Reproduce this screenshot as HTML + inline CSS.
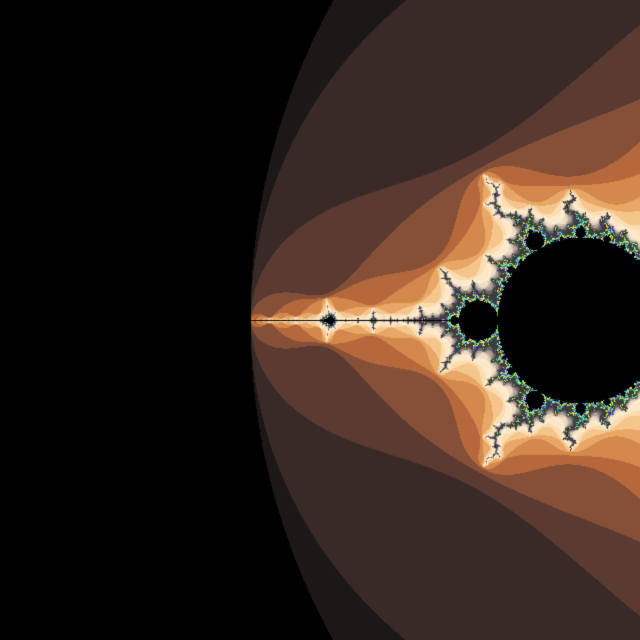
<!DOCTYPE html>
<html><head><meta charset="utf-8"><style>html,body{margin:0;padding:0;background:#000}canvas{display:block}</style></head>
<body>
<canvas id="c" width="640" height="640"></canvas>
<script>
const viewCenter = [-1.788, 0];
const pixelsPerUnit = [330];
const maxIter = [300];
const palette = ["#000000","#1c1818","#3a2a27","#5a3a31","#855037","#b5683c","#d3884c","#e8a766","#f5c68c","#fadcae","#fce8c8","#fcecd0","#f0dcc4","#d8c4b4","#b0a098","#888078","#686460","#505050"];
const highColors = ["#e8e020","#20c0a0","#3040e0","#c0e040","#40e0e0","#e0e060","#208040","#a020c0"];
const cv = document.getElementById('c');
const ctx = cv.getContext('2d');
const img = ctx.createImageData(640, 640);
function hex(h){return [parseInt(h.substr(1,2),16),parseInt(h.substr(3,2),16),parseInt(h.substr(5,2),16)];}
const pal = palette.map(hex), hi = highColors.map(hex);
for (let py = 0; py < 640; py++) {
  for (let px = 0; px < 640; px++) {
    const cr = viewCenter[0] + (px - 320) / pixelsPerUnit[0];
    const ci = viewCenter[1] + (py - 320) / pixelsPerUnit[0];
    let zr = 0, zi = 0, n = 0;
    while (n < maxIter[0]) {
      const t = zr*zr - zi*zi + cr;
      zi = 2*zr*zi + ci; zr = t;
      if (zr*zr + zi*zi > 4) break;
      n++;
    }
    let col;
    if (n >= maxIter[0]) col = [0,0,0];
    else if (n < pal.length) col = pal[n];
    else if (n < 30) col = [60,60,60];
    else col = hi[n % hi.length];
    const k = (py*640 + px)*4;
    img.data[k]=col[0]; img.data[k+1]=col[1]; img.data[k+2]=col[2]; img.data[k+3]=255;
  }
}
ctx.putImageData(img, 0, 0);
</script>
</body></html>
